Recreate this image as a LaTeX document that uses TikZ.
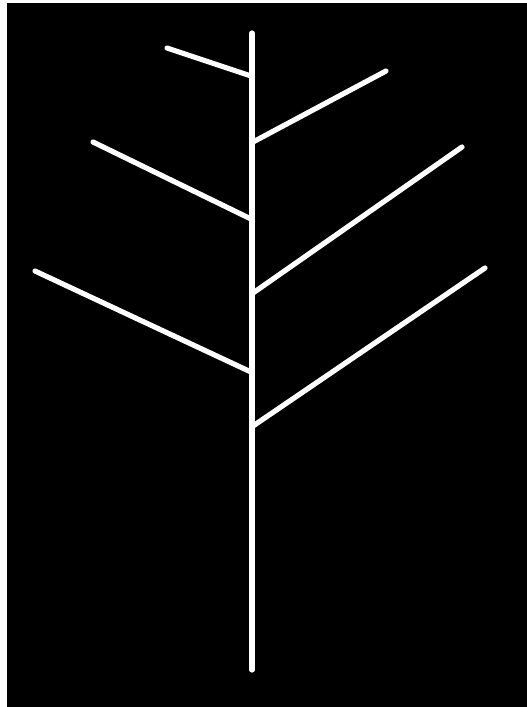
\documentclass[tikz,border=0pt]{standalone}
\begin{document}
\begin{tikzpicture}[x=1pt,y=-1pt,
  limb/.style={draw=white,line width=5.2pt,line cap=round}]
\useasboundingbox (0,0) rectangle (527,707);
\fill[white] (0,0) rectangle (527,707);
\fill[black] (7,3) rectangle (527,707);
% trunk
\coordinate (top) at (252,33);
\coordinate (bot) at (252,670);
\draw[limb] (top) -- (bot);
% junctions on trunk
\coordinate (j1) at (251,76);
\coordinate (j2) at (253,142);
\coordinate (j3) at (251,219);
\coordinate (j4) at (253,293);
\coordinate (j5) at (251,372);
\coordinate (j6) at (253,426);
% tips
\coordinate (t1) at (167,48);
\coordinate (t2) at (386,71);
\coordinate (t3) at (93,142);
\coordinate (t4) at (462,147);
\coordinate (t5) at (35,271);
\coordinate (t6) at (485,268);
\draw[limb] (t1) -- (j1);
\draw[limb] (j2) -- (t2);
\draw[limb] (t3) -- (j3);
\draw[limb] (j4) -- (t4);
\draw[limb] (t5) -- (j5);
\draw[limb] (j6) -- (t6);
\end{tikzpicture}
\end{document}
